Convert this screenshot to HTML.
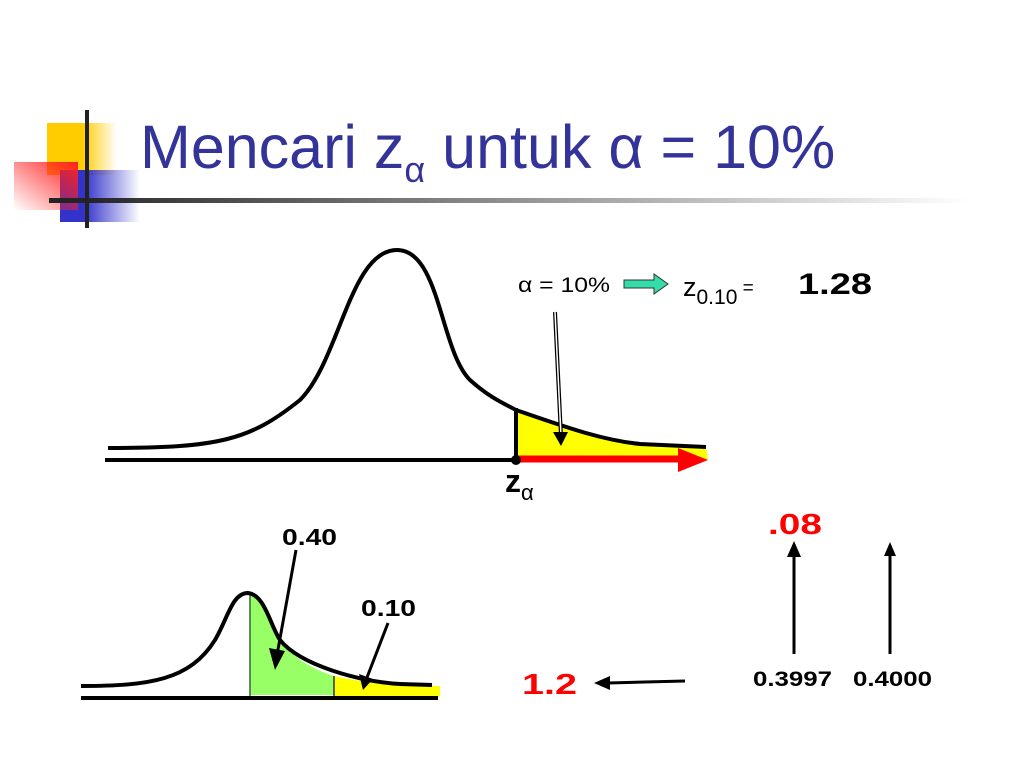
<!DOCTYPE html>
<html><head><meta charset="utf-8"><style>
body{margin:0;background:#fff;}
svg{display:block;font-family:"Liberation Sans",sans-serif;}
</style></head><body>
<svg width="1024" height="768" viewBox="0 0 1024 768">
<defs>
<linearGradient id="gy" x1="0" x2="1"><stop offset="0.5" stop-color="#ffcc00"/><stop offset="1" stop-color="#ffcc00" stop-opacity="0"/></linearGradient>
<linearGradient id="gb" x1="0" x2="1"><stop offset="0.3" stop-color="#3333cc"/><stop offset="1" stop-color="#3333cc" stop-opacity="0"/></linearGradient>
<linearGradient id="gr" x1="1" y1="0" x2="0" y2="1"><stop offset="0" stop-color="#ff2020"/><stop offset="1" stop-color="#ff2020" stop-opacity="0"/></linearGradient>
<linearGradient id="gl" x1="0" x2="1"><stop offset="0" stop-color="#222"/><stop offset="1" stop-color="#222" stop-opacity="0"/></linearGradient>
</defs>
<g>
<rect x="47" y="123" width="70" height="52" fill="url(#gy)"/>
<rect x="60" y="170" width="80" height="52" fill="url(#gb)"/>
<rect x="14" y="162" width="64" height="48" fill="url(#gr)"/>
<rect x="49" y="198" width="920" height="5" fill="url(#gl)"/>
<rect x="85" y="110" width="4" height="118" fill="#222"/>
</g>
<text x="140" y="168" font-size="61" fill="#333399">Mencari z<tspan font-size="36" dy="14">α</tspan><tspan dy="-14"> untuk α = 10%</tspan></text>

<g>
<path d="M516,410 C560,425 600,440 640,444 L706,447 L708,460 L516,460 Z" fill="#ffff00"/>
<line x1="105" y1="460" x2="515" y2="460" stroke="#000" stroke-width="4"/>
<path d="M108,448 C220,448 250,440 300,400 C340,360 350,250 397,250 C440,250 440,350 470,380 C490,398 505,404 516,410 C560,425 600,440 640,444 L706,447" fill="none" stroke="#000" stroke-width="4"/>
<line x1="516" y1="408" x2="516" y2="460" stroke="#000" stroke-width="4"/>
<line x1="516" y1="459" x2="680" y2="459" stroke="#ff0000" stroke-width="7"/>
<polygon points="678,448 708,460 678,472" fill="#ff0000"/>
<circle cx="516" cy="460" r="5" fill="#000"/>
<line x1="555" y1="312" x2="561" y2="436" stroke="#000" stroke-width="4"/>
<line x1="555" y1="312" x2="561" y2="436" stroke="#fff" stroke-width="1.5"/>
<polygon points="553,432 568,432 561,446" fill="#000"/>
<text x="505" y="492" font-size="32" font-weight="bold">z<tspan font-size="22" font-weight="normal" dy="8">α</tspan></text>
</g>

<text x="518" y="292" font-size="21" textLength="92" lengthAdjust="spacingAndGlyphs">α = 10%</text>
<path d="M624,280 h30 v-6 l14,10 l-14,10 v-6 h-30 z" fill="#33ddaa" stroke="#333" stroke-width="1"/>
<text x="683" y="296" font-size="27">z<tspan font-size="21" dy="8">0.10</tspan><tspan font-size="19" dy="-10"> =</tspan></text>
<text x="798" y="294" font-size="30" font-weight="bold" textLength="74" lengthAdjust="spacingAndGlyphs">1.28</text>

<g>
<path d="M250,593 C265,600 270,625 280,640 C295,660 315,670 334,676 L334,695 L250,695 Z" fill="#99ff66"/>
<path d="M334,676 C370,684 400,686 440,686 L440,697 L334,697 Z" fill="#ffff00"/>
<line x1="250" y1="593" x2="250" y2="696" stroke="#336633" stroke-width="1.5"/>
<line x1="334" y1="676" x2="334" y2="696" stroke="#333" stroke-width="1.5"/>
<path d="M81,686 C150,686 190,680 215,640 C228,618 232,593 248,593 C265,595 270,625 280,640 C300,665 360,682 400,684 L432,685" fill="none" stroke="#000" stroke-width="4"/>
<line x1="81" y1="698" x2="438" y2="698" stroke="#000" stroke-width="4"/>
<line x1="296" y1="550" x2="277" y2="655" stroke="#000" stroke-width="3"/>
<polygon points="269,648 285,651 275,670" fill="#000"/>
<line x1="388" y1="623" x2="366" y2="680" stroke="#000" stroke-width="3"/>
<polygon points="359,674 373,679 363,690" fill="#000"/>
<text x="282" y="545" font-size="23" font-weight="bold" textLength="55" lengthAdjust="spacingAndGlyphs">0.40</text>
<text x="361" y="616" font-size="23" font-weight="bold" textLength="55" lengthAdjust="spacingAndGlyphs">0.10</text>
</g>

<text x="522" y="694" font-size="29" font-weight="bold" fill="#ff0000" textLength="55" lengthAdjust="spacingAndGlyphs">1.2</text>
<line x1="685" y1="681" x2="608" y2="683" stroke="#000" stroke-width="3"/>
<polygon points="594,683 610,676 610,690" fill="#000"/>
<text x="768" y="534" font-size="29" font-weight="bold" fill="#ff0000" textLength="54" lengthAdjust="spacingAndGlyphs">.08</text>
<line x1="794" y1="654" x2="794" y2="555" stroke="#000" stroke-width="3"/>
<polygon points="787,557 794,541 801,557" fill="#000"/>
<line x1="890" y1="654" x2="890" y2="555" stroke="#000" stroke-width="3"/>
<polygon points="884,556 890,542 896,556" fill="#000"/>
<text x="753" y="686" font-size="21" font-weight="bold" textLength="79" lengthAdjust="spacingAndGlyphs">0.3997</text>
<text x="853" y="686" font-size="21" font-weight="bold" textLength="79" lengthAdjust="spacingAndGlyphs">0.4000</text>
</svg>
</body></html>
